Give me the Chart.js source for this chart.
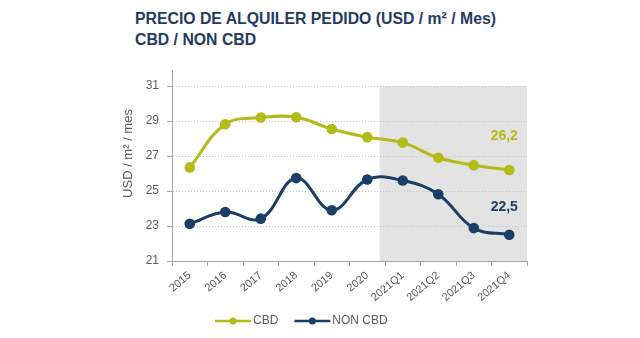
<!DOCTYPE html>
<html>
<head>
<meta charset="utf-8">
<script src="https://cdn.jsdelivr.net/npm/chart.js@4.4.1/dist/chart.umd.min.js"></script>
<style>
    html, body { margin: 0; padding: 0; background: #fff; }
    #wrap { position: relative; width: 640px; height: 338px; overflow: hidden; }
    #title {
        position: absolute; left: 135px; top: 8px;
        font: bold 15.8px "Liberation Sans", Arial, sans-serif;
        line-height: 21px; color: #1f3b63;
    }
    canvas { position: absolute; left: 0; top: 0; }
</style>
</head>
<body>
<div id="wrap">
    <div id="title">PRECIO DE ALQUILER PEDIDO (USD / m² / Mes)<br>CBD / NON CBD</div>
    <canvas id="chart" width="640" height="338"></canvas>
</div>
<script>
// Data
const periods = ['2015', '2016', '2017', '2018', '2019', '2020', '2021Q1', '2021Q2', '2021Q3', '2021Q4'];
const cbd = [26.35, 28.82, 29.2, 29.22, 28.55, 28.08, 27.77, 26.9, 26.48, 26.2];
const nonCbd = [23.13, 23.8, 23.42, 25.74, 23.9, 25.66, 25.6, 24.82, 22.88, 22.5];
const yTicks = [21, 23, 25, 27, 29, 31];
const seriesNames = ['CBD', 'NON CBD'];
const seriesColors = ['#b3bb17', '#1a3e66'];
const yTitle = 'USD / m² / mes';
const shadedFrom = 5; // shading starts after 2020

const FONT = '"Liberation Sans", Arial, sans-serif';
const GREY_TEXT = '#595959';
const AXIS_GREY = '#a6a6a6';

// grey box behind the 2021 quarters
const shadePlugin = {
    id: 'shade',
    beforeDraw(chart) {
        const { ctx, chartArea, scales } = chart;
        const x = scales.x;
        const step = x.getPixelForValue(1) - x.getPixelForValue(0);
        const left = x.getPixelForValue(shadedFrom) + 0.35 * step;
        const top = scales.y.getPixelForValue(yTicks[yTicks.length - 1]);
        ctx.save();
        ctx.fillStyle = '#e3e3e3';
        ctx.fillRect(left, top, chartArea.right - left, chartArea.bottom - top);
        ctx.restore();
    }
};

// value label above the last point of each series
const lastValuePlugin = {
    id: 'lastValue',
    afterDatasetsDraw(chart) {
        const { ctx } = chart;
        const lift = [34, 28];
        ctx.save();
        ctx.font = 'bold 14px ' + FONT;
        ctx.textAlign = 'center';
        ctx.textBaseline = 'middle';
        chart.data.datasets.forEach((ds, i) => {
            const pts = chart.getDatasetMeta(i).data;
            const pt = pts[pts.length - 1];
            const v = ds.data[ds.data.length - 1];
            ctx.fillStyle = ds.borderColor;
            ctx.fillText(v.toFixed(1).replace('.', ','), pt.x - 5, pt.y - lift[i]);
        });
        ctx.restore();
    }
};

// rotated y title, sitting a bit above the middle of the axis like the original
const yTitlePlugin = {
    id: 'yTitle',
    afterDraw(chart) {
        const { ctx, chartArea } = chart;
        const cy = (chartArea.top + chartArea.bottom) / 2 - 12;
        ctx.save();
        ctx.translate(chartArea.left - 44, cy);
        ctx.rotate(-Math.PI / 2);
        ctx.font = '13px ' + FONT;
        ctx.fillStyle = GREY_TEXT;
        ctx.textAlign = 'center';
        ctx.textBaseline = 'middle';
        ctx.fillText(yTitle, 0, 0);
        ctx.restore();
    }
};

// line-with-dot legend below the axis
const legendPlugin = {
    id: 'lineLegend',
    afterDraw(chart) {
        const { ctx } = chart;
        const y = 321;
        let x = 215;
        ctx.save();
        ctx.font = '12px ' + FONT;
        ctx.textBaseline = 'middle';
        chart.data.datasets.forEach(ds => {
            ctx.strokeStyle = ds.borderColor;
            ctx.lineWidth = 2.5;
            ctx.beginPath();
            ctx.moveTo(x, y);
            ctx.lineTo(x + 36, y);
            ctx.stroke();
            ctx.fillStyle = ds.borderColor;
            ctx.beginPath();
            ctx.arc(x + 18, y, 3.5, 0, Math.PI * 2);
            ctx.fill();
            ctx.fillStyle = GREY_TEXT;
            ctx.fillText(ds.label, x + 38, y);
            x += 38 + ctx.measureText(ds.label).width + 16;
        });
        ctx.restore();
    }
};

const datasets = [cbd, nonCbd].map((values, i) => ({
    label: seriesNames[i],
    data: values,
    borderColor: seriesColors[i],
    backgroundColor: seriesColors[i],
    pointBackgroundColor: seriesColors[i],
    borderWidth: 3,
    pointRadius: 5.3,
    pointBorderWidth: 0,
    tension: 0.4,
    fill: false
}));

new Chart(document.getElementById('chart'), {
    type: 'line',
    data: { labels: periods, datasets: datasets },
    options: {
        responsive: false,
        animation: false,
        layout: { padding: { left: 110, right: 113, top: 70, bottom: 27 } },
        plugins: {
            legend: { display: false },
            tooltip: { enabled: false }
        },
        scales: {
            x: {
                offset: true,
                grid: {
                    offset: true,
                    drawOnChartArea: false,
                    drawTicks: true,
                    tickLength: 5,
                    color: AXIS_GREY
                },
                border: { color: AXIS_GREY, width: 1 },
                ticks: {
                    color: GREY_TEXT,
                    font: { family: FONT, size: 11 },
                    minRotation: 40,
                    maxRotation: 40,
                    padding: 3
                },
                afterFit(scale) { scale.height = 50; }
            },
            y: {
                min: yTicks[0],
                max: 31.92,
                ticks: {
                    stepSize: 2,
                    includeBounds: false,
                    color: GREY_TEXT,
                    font: { family: FONT, size: 12 },
                    padding: 8
                },
                afterBuildTicks(scale) {
                    scale.ticks = yTicks.map(v => ({ value: v }));
                },
                grid: {
                    color: '#c4c4c4',
                    tickColor: AXIS_GREY,
                    tickLength: 5,
                    tickBorderDash: []
                },
                border: { color: AXIS_GREY, width: 1, dash: [1, 2] },
                afterFit(scale) { scale.width = 62; }
            }
        }
    },
    plugins: [shadePlugin, lastValuePlugin, yTitlePlugin, legendPlugin]
});
</script>
</body>
</html>
